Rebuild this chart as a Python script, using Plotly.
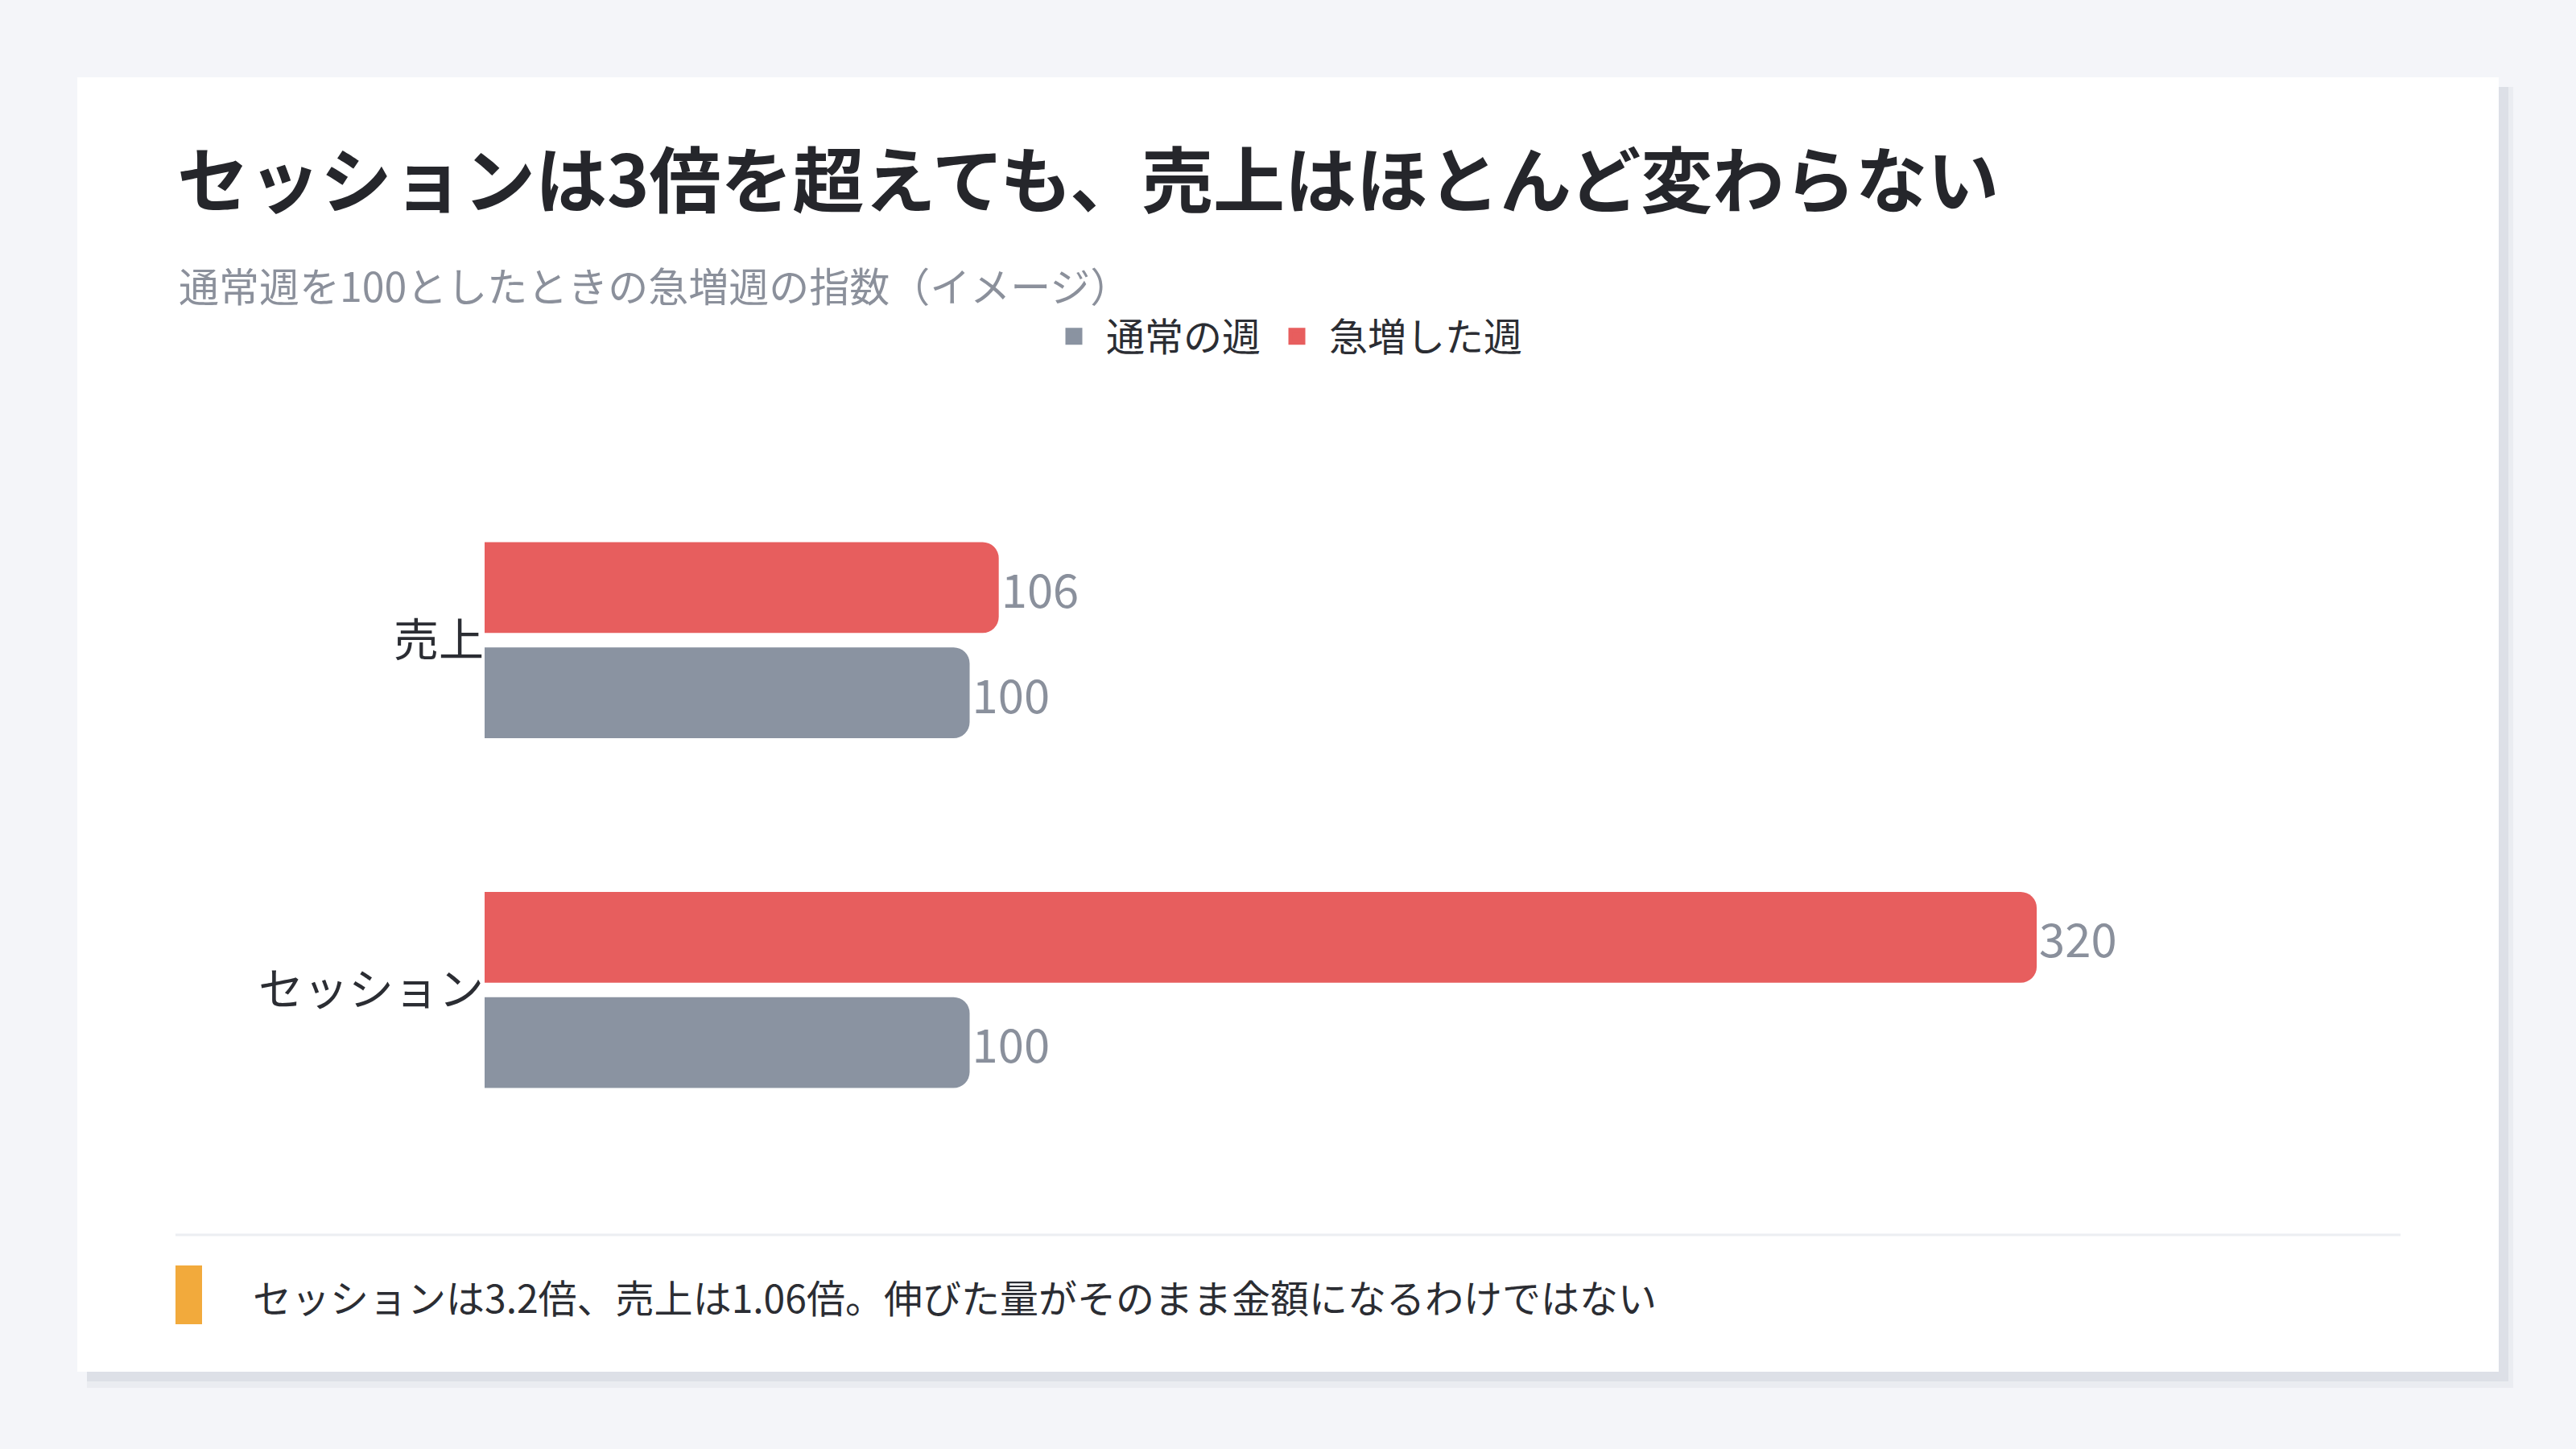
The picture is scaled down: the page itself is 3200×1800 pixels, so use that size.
import plotly.graph_objects as go

# data
categories = ['セッション', '売上']          # bottom -> top
normal_week = [100, 100]
surge_week = [320, 106]
series_names = ['通常の週', '急増した週']
series_colors = ['#8a93a1', '#e75e5e']

title_text = 'セッションは3倍を超えても、売上はほとんど変わらない'
subtitle_text = '通常週を100としたときの急増週の指数（イメージ）'
note_text = 'セッションは3.2倍、売上は1.06倍。伸びた量がそのまま金額になるわけではない'

FONT = 'Noto Sans CJK JP'
W, H = 3200, 1800
# plot area in pixels
L, R, T, B = 602, 2982, 578, 1447


def fx(px):
    return (px - L) / (R - L)


def fy(py):
    return (B - py) / (B - T)


fig = go.Figure()

for name, vals, col in zip(series_names, [normal_week, surge_week], series_colors):
    fig.add_trace(go.Bar(
        y=categories, x=vals, name=name, orientation='h',
        marker=dict(color=col, cornerradius=20, line_width=0),
        text=vals, texttemplate='%{x}', textposition='outside',
        textfont=dict(size=58, color='#8a909c', family=FONT),
        cliponaxis=False, showlegend=False, legendgroup=name,
    ))
    # legend-only marker (bigger square than the bar icon)
    fig.add_trace(go.Scatter(
        x=[None], y=[None], mode='markers', name=name, legendgroup=name,
        marker=dict(symbol='square', size=16, color=col,
                    line=dict(width=5, color=col)),
    ))

shapes = [
    # card shadow
    dict(type='rect', x0=fx(108), x1=fx(3122), y0=fy(108), y1=fy(1724),
         fillcolor='#eaecf1', line_width=0, layer='below'),
    dict(type='rect', x0=fx(108), x1=fx(3116), y0=fy(108), y1=fy(1716),
         fillcolor='#dde0e7', line_width=0, layer='below'),
    # card
    dict(type='rect', x0=fx(96), x1=fx(3104), y0=fy(96), y1=fy(1704),
         fillcolor='white', line_width=0, layer='below'),
    # divider
    dict(type='line', x0=fx(218), x1=fx(2982), y0=fy(1534), y1=fy(1534),
         line=dict(color='#eceef2', width=3)),
    # accent bar
    dict(type='rect', x0=fx(218), x1=fx(251), y0=fy(1572), y1=fy(1645),
         fillcolor='#f2aa3c', line_width=0),
]
for s in shapes:
    s['xref'] = 'paper'
    s['yref'] = 'paper'

fig.update_layout(
    width=W, height=H,
    margin=dict(l=L, r=W - R, t=T, b=H - B, pad=0),
    paper_bgcolor='#f4f5f9',
    plot_bgcolor='white',
    font=dict(family=FONT, color='#2b2d33'),
    title=dict(text=title_text, x=220 / W, xref='container', xanchor='left',
               y=1 - 226 / H, yref='container', yanchor='middle',
               font=dict(size=89, color='#25262b', family=FONT, weight=700)),
    barmode='group', bargap=0.398, bargroupgap=0.137,
    legend=dict(orientation='h', x=1294 / W, xref='container', xanchor='left',
                y=1 - 418 / H, yref='container', yanchor='middle',
                font=dict(size=48, color='#2b2d33', family=FONT),
                itemwidth=70, bgcolor='rgba(0,0,0,0)'),
    xaxis=dict(range=[0, 395], visible=False, fixedrange=True),
    yaxis=dict(categoryorder='array', categoryarray=categories, showgrid=False,
               zeroline=False, showline=False, ticks='', fixedrange=True,
               tickfont=dict(size=56, color='#2b2d33', family=FONT)),
    shapes=shapes,
    annotations=[
        dict(text=subtitle_text, x=fx(220), y=fy(353), xref='paper', yref='paper',
             xanchor='left', yanchor='middle', showarrow=False,
             font=dict(size=50, color='#8b909b', family=FONT)),
        dict(text=note_text, x=fx(312), y=fy(1610), xref='paper', yref='paper',
             xanchor='left', yanchor='middle', showarrow=False,
             font=dict(size=48, color='#2b2d33', family=FONT)),
    ],
)

fig.write_html(
    'out.html',
    config={'displayModeBar': False},
    post_script="document.body.style.margin='0';"
                "document.body.style.backgroundColor='#f4f5f9';",
)
